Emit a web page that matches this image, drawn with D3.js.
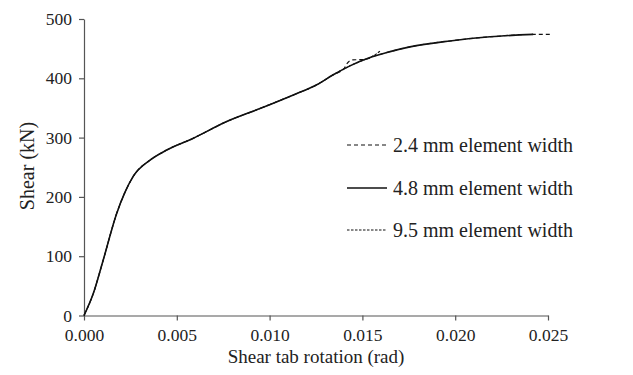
<!DOCTYPE html>
<html lang="en">
<head>
  <meta charset="UTF-8">
  <script src="https://d3js.org/d3.v7.min.js"></script>
  <title>Shear vs rotation</title>
  <style>
    body { margin: 0; background: #fff; }
    text { font-family: "Liberation Serif", "Times New Roman", serif; fill: #222; }
  </style>
</head>
<body>
<svg width="633" height="375"></svg>
<script>
  // data
  var xTicks = [0, 0.005, 0.010, 0.015, 0.020, 0.025];
  var yTicks = [0, 100, 200, 300, 400, 500];
  var seriesNames = ["2.4 mm element width", "4.8 mm element width", "9.5 mm element width"];

  var rot48 = [0, 0.0005, 0.00104, 0.00176, 0.00221, 0.00266, 0.00356, 0.00446, 0.00589, 0.00769, 0.00948, 0.01128, 0.01254, 0.01343, 0.01433, 0.01541, 0.01649, 0.01756, 0.01972, 0.02188, 0.0242];
  var shear48 = [0, 37, 94, 172, 208, 235, 262, 279, 299, 327, 349, 372, 389, 406, 421, 435, 445, 453, 463, 470, 474];

  var rot24 = [0, 0.0005, 0.00104, 0.00176, 0.00221, 0.00266, 0.00356, 0.00446, 0.00589, 0.00769, 0.00948, 0.01128, 0.01254, 0.01343, 0.01400, 0.01415, 0.01445, 0.01515, 0.01570, 0.01649, 0.01756, 0.01972, 0.02188, 0.0242, 0.0251];
  var shear24 = [0, 37, 94, 172, 208, 235, 262, 279, 299, 327, 349, 372, 389, 406, 416, 424, 431, 432, 438, 445, 453, 463, 470, 474, 474];

  var rot95 = [0, 0.0005, 0.00104, 0.00176, 0.00221, 0.00266, 0.00356, 0.00446, 0.00589, 0.00769, 0.00948, 0.01128, 0.01254, 0.01343, 0.01433, 0.01500, 0.01560, 0.0160];
  var shear95 = [0, 37, 94, 172, 208, 235, 262, 279, 299, 327, 349, 372, 389, 406, 421, 430, 438, 447];

  var svg = d3.select("svg");
  var x = d3.scaleLinear().domain([0, 0.025]).range([84, 548]);
  var y = d3.scaleLinear().domain([0, 500]).range([315.5, 19]);

  // axes
  var xAxis = svg.append("g")
    .attr("transform", "translate(0," + y(0) + ")")
    .call(d3.axisBottom(x).tickValues(xTicks).tickFormat(d3.format(".3f")).tickSizeInner(5).tickSizeOuter(0).tickPadding(8));
  var yAxis = svg.append("g")
    .attr("transform", "translate(" + x(0) + ",0)")
    .call(d3.axisLeft(y).tickValues(yTicks).tickSizeInner(5).tickSizeOuter(0).tickPadding(7));
  [xAxis, yAxis].forEach(function(a) {
    a.selectAll("path, line").attr("stroke", "#555").attr("stroke-width", 1.2);
    a.selectAll("text").attr("font-size", 17.5).attr("fill", "#222")
      .style("font-family", "'Liberation Serif', serif");
  });

  // axis titles
  svg.append("text")
    .attr("x", 316).attr("y", 363)
    .attr("text-anchor", "middle").attr("font-size", 19)
    .text("Shear tab rotation (rad)");
  svg.append("text")
    .attr("transform", "translate(34,166) rotate(-90)")
    .attr("text-anchor", "middle").attr("font-size", 20)
    .text("Shear (kN)");

  // curves
  var line = d3.line()
    .x(function(d) { return x(d[0]); })
    .y(function(d) { return y(d[1]); })
    .curve(d3.curveMonotoneX);

  var curves = [
    { pts: d3.zip(rot24, shear24), dash: "4,3", w: 1.1 },
    { pts: d3.zip(rot48, shear48), dash: null, w: 1.6 },
    { pts: d3.zip(rot95, shear95), dash: "2.5,1.5", w: 1.1 }
  ];
  curves.forEach(function(c) {
    svg.append("path")
      .attr("d", line(c.pts))
      .attr("fill", "none")
      .attr("stroke", "#111")
      .attr("stroke-width", c.w)
      .attr("stroke-dasharray", c.dash);
  });

  // legend
  var legY = [145, 188, 230];
  var leg = svg.selectAll(".leg")
    .data(seriesNames)
    .enter()
    .append("g")
    .attr("transform", function(d, i) { return "translate(347," + legY[i] + ")"; });
  leg.append("line")
    .attr("x1", 0).attr("x2", 40)
    .attr("stroke", "#111")
    .attr("stroke-width", function(d, i) { return curves[i].w; })
    .attr("stroke-dasharray", function(d, i) { return curves[i].dash; });
  leg.append("text")
    .attr("x", 46).attr("dy", "0.33em")
    .attr("font-size", 20)
    .text(function(d) { return d; });
</script>
</body>
</html>
